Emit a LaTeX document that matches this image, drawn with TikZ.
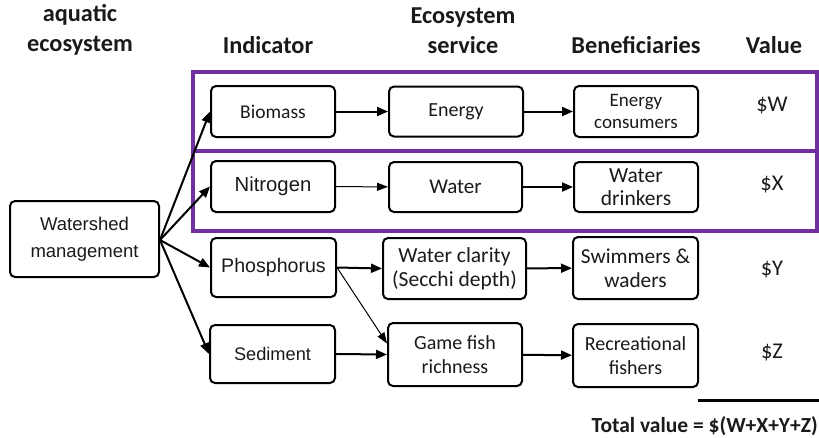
\documentclass[tikz,border=0pt]{standalone}
\usepackage{fontspec}
\setmainfont{Carlito}
\newfontfamily\arialf{Liberation Sans}
\usetikzlibrary{arrows.meta,calc}
\definecolor{rowpurple}{HTML}{7030A0}
\definecolor{inktext}{HTML}{1A1A1A}
\begin{document}
\begin{tikzpicture}[x=1pt,y=-1pt,
  hdr/.style={font=\fontsize{24.3}{30}\selectfont\bfseries, align=center, inner sep=0, text=inktext},
  bx/.style={draw, line width=2pt, rounded corners=5pt, align=center, inner sep=0,
             font=\fontsize{19.5}{23}\selectfont, text=inktext},
  val/.style={font=\fontsize{22.5}{26}\selectfont, inner sep=0, text=inktext},
  rowbox/.style={draw=rowpurple, line width=3.2pt, inner sep=0},
  arr/.style={line width=2pt, -{Triangle[length=11pt,width=9pt]}},
  tarr/.style={line width=1pt, -{Triangle[length=11pt,width=8pt]}}]
\useasboundingbox (0,0) rectangle (819,437);

% column headings
\node[hdr] (h1) at (80,30) {aquatic\\ecosystem};
\node[hdr] (h2) at (268,45) {Indicator};
\node[hdr] (h3) at (463,31) {Ecosystem\\service};
\node[hdr] (h4) at (636,45) {Beneficiaries};
\node[hdr] (h5) at (774,45) {Value};

% purple row frames
\node[rowbox, minimum width=624pt, minimum height=79pt] (row1) at (505,111.5) {};
\node[rowbox, minimum width=624pt, minimum height=80pt] (row2) at (505,191) {};

% source
\node[bx, font=\arialf\fontsize{18.5}{27}\selectfont, minimum width=149pt, minimum height=76pt] (ws) at (84.5,239) {Watershed\\management};

% indicators
\node[bx, minimum width=124pt, minimum height=51pt] (bio) at (273,111.5) {Biomass};
\node[bx, font=\arialf\fontsize{20.3}{22}\selectfont, minimum width=124pt, minimum height=51pt] (nit) at (273,186.5) {Nitrogen};
\node[bx, font=\arialf\fontsize{19.6}{22}\selectfont, minimum width=125pt, minimum height=59pt] (pho) at (273.5,267.5) {Phosphorus};
\node[bx, font=\arialf\fontsize{18.2}{22}\selectfont, minimum width=125pt, minimum height=58pt] (sed) at (272.5,354) {Sediment};

% services
\node[bx, font=\fontsize{20}{24}\selectfont, minimum width=134pt, minimum height=50pt] (ene) at (456,111.5) {Energy};
\node[bx, font=\fontsize{21}{24}\selectfont, minimum width=133pt, minimum height=50pt] (wat) at (455.5,187) {Water};
\node[bx, font=\fontsize{21.5}{24}\selectfont, minimum width=143pt, minimum height=61pt] (cla) at (454.5,268.5) {Water clarity\\(Secchi depth)};
\node[bx, font=\fontsize{20}{24}\selectfont, minimum width=134pt, minimum height=63pt] (gam) at (455,354.5) {Game fish\\richness};

% beneficiaries
\node[bx, font=\fontsize{19}{22}\selectfont, minimum width=124pt, minimum height=51pt] (enc) at (636,111.5) {Energy\\consumers};
\node[bx, font=\fontsize{21.5}{23}\selectfont, minimum width=124pt, minimum height=50pt] (wdr) at (636,187) {Water\\drinkers};
\node[bx, font=\fontsize{21.3}{24}\selectfont, minimum width=125pt, minimum height=62pt] (swi) at (635.5,268) {Swimmers \&\\waders};
\node[bx, font=\fontsize{20}{24}\selectfont, minimum width=125pt, minimum height=63pt] (rec) at (635.5,355.5) {Recreational\\fishers};

% values
\node[val] (vw) at (772,106) {\$W};
\node[val] (vx) at (772,185) {\$X};
\node[val] (vy) at (772,270) {\$Y};
\node[val] (vz) at (772,353) {\$Z};

% total
\coordinate (tl) at (698,400);
\coordinate (tr) at (819,400);
\draw[line width=3pt] (tl) -- (tr);
\node[font=\fontsize{21.5}{24}\selectfont\bfseries, inner sep=0, anchor=east, text=inktext] (tot) at (818,426) {Total value = \$(W+X+Y+Z)};

% connectors
\coordinate (hub) at (160,240);
\draw[arr] (hub) -- (bio.west);
\draw[arr] (hub) -- (nit.west);
\draw[arr] (hub) -- (pho.west);
\draw[arr] (hub) -- (sed.west);

\draw[arr] (bio) -- (ene);
\draw[tarr] (nit) -- (wat);
\draw[arr] (pho.east) -- (cla.west);
\draw[tarr] (pho.east) -- ($(gam.west)+(0,-11)$);
\draw[arr] (sed.east) -- (gam.west);

\draw[arr] (ene) -- (enc);
\draw[arr] (wat) -- (wdr);
\draw[arr] (cla) -- (swi);
\draw[arr] (gam) -- (rec);
\end{tikzpicture}
\end{document}
